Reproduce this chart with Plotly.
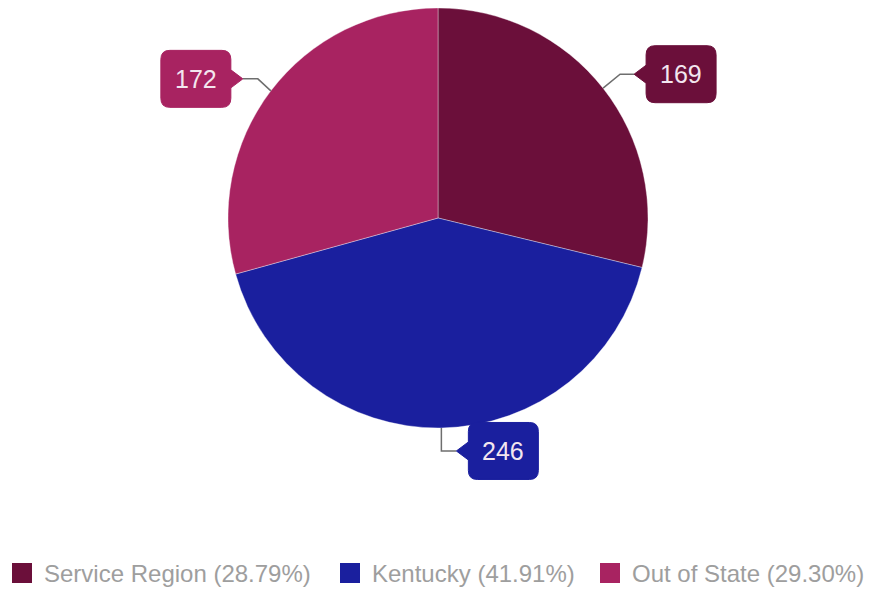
import math
import plotly.graph_objects as go

# ---- data ----
categories = ["Service Region", "Kentucky", "Out of State"]
values = [169, 246, 172]
colors = ["#6b0f3a", "#1a1f9e", "#a82361"]

W, H = 872, 590
CX, CY, R = 438, 218, 210          # pie centre / radius in px

def px(x):
    return x / W

def py(y):
    return 1 - y / H

total = sum(values)
pcts = [v / total * 100 for v in values]

fig = go.Figure()
fig.add_trace(go.Pie(
    labels=categories,
    values=values,
    marker=dict(colors=colors, line=dict(color="rgba(255,255,255,0.6)", width=0.6)),
    sort=False,
    direction="clockwise",
    rotation=0,
    textinfo="none",
    hoverinfo="label+value+percent",
    showlegend=False,
    domain=dict(x=[px(CX - R), px(CX + R)], y=[py(CY + R), py(CY - R)]),
))

# ---- callout layout (style) ----
callout_style = [
    dict(dx=78, dy=-14, side="left", elbow="diag", ex=17),
    dict(dx=62, dy=23, side="left", elbow="vert", ex=0),
    dict(dx=-75, dy=-12, side="right", elbow="diag", ex=-13),
]
BW, BH, BR = 70, 57, 9
TIP, TH = 12, 9

def box_path(cx, cy, side):
    x0, x1 = cx - BW / 2, cx + BW / 2
    y0, y1 = cy - BH / 2, cy + BH / 2
    p = f"M{px(x0 + BR)},{py(y0)} L{px(x1 - BR)},{py(y0)} "
    p += f"Q{px(x1)},{py(y0)} {px(x1)},{py(y0 + BR)} "
    if side == "right":
        p += f"L{px(x1)},{py(cy - TH)} L{px(x1 + TIP)},{py(cy)} L{px(x1)},{py(cy + TH)} "
    p += f"L{px(x1)},{py(y1 - BR)} Q{px(x1)},{py(y1)} {px(x1 - BR)},{py(y1)} "
    p += f"L{px(x0 + BR)},{py(y1)} Q{px(x0)},{py(y1)} {px(x0)},{py(y1 - BR)} "
    if side == "left":
        p += f"L{px(x0)},{py(cy + TH)} L{px(x0 - TIP)},{py(cy)} L{px(x0)},{py(cy - TH)} "
    p += f"L{px(x0)},{py(y0 + BR)} Q{px(x0)},{py(y0)} {px(x0 + BR)},{py(y0)} Z"
    return p

shapes = []
annotations = []
cum = 0
for i, v in enumerate(values):
    mid = (cum + v / 2) / total * 2 * math.pi
    cum += v
    ex, ey = CX + R * math.sin(mid), CY - R * math.cos(mid)
    st = callout_style[i]
    bx, by = ex + st["dx"], ey + st["dy"]
    tipx = bx - BW / 2 - TIP if st["side"] == "left" else bx + BW / 2 + TIP
    if st["elbow"] == "diag":
        elx, ely = ex + st["ex"], by
    else:
        elx, ely = ex, by
    shapes.append(dict(
        type="path", xref="paper", yref="paper",
        path=f"M{px(ex)},{py(ey)} L{px(elx)},{py(ely)} L{px(tipx)},{py(by)}",
        line=dict(color="#6e6e6e", width=1.5),
    ))
    shapes.append(dict(
        type="path", xref="paper", yref="paper",
        path=box_path(bx, by, st["side"]),
        fillcolor=colors[i], line=dict(color=colors[i], width=1),
    ))
    annotations.append(dict(
        x=px(bx), y=py(by), xref="paper", yref="paper",
        text=str(v), showarrow=False,
        font=dict(family="Arial", size=25, color="#f3e6ef"),
        xanchor="center", yanchor="middle",
    ))

# ---- legend (bottom) ----
legend_x = [12, 340, 600]
LY, SQ = 573, 20
for i, name in enumerate(categories):
    x = legend_x[i]
    shapes.append(dict(
        type="rect", xref="paper", yref="paper",
        x0=px(x), x1=px(x + SQ), y0=py(LY + SQ / 2), y1=py(LY - SQ / 2),
        fillcolor=colors[i], line=dict(color=colors[i], width=0),
    ))
    annotations.append(dict(
        x=px(x + SQ + 10), y=py(LY), xref="paper", yref="paper",
        text=f"{name} ({pcts[i]:.2f}%)", showarrow=False,
        font=dict(family="Arial", size=24, color="#9e9e9e"),
        xanchor="left", yanchor="middle",
    ))

fig.update_layout(
    width=W, height=H,
    margin=dict(l=0, r=0, t=0, b=0),
    paper_bgcolor="white", plot_bgcolor="white",
    shapes=shapes, annotations=annotations,
)
fig.write_html("out.html", config={"displayModeBar": False},
               post_script="document.body.style.margin='0';")
